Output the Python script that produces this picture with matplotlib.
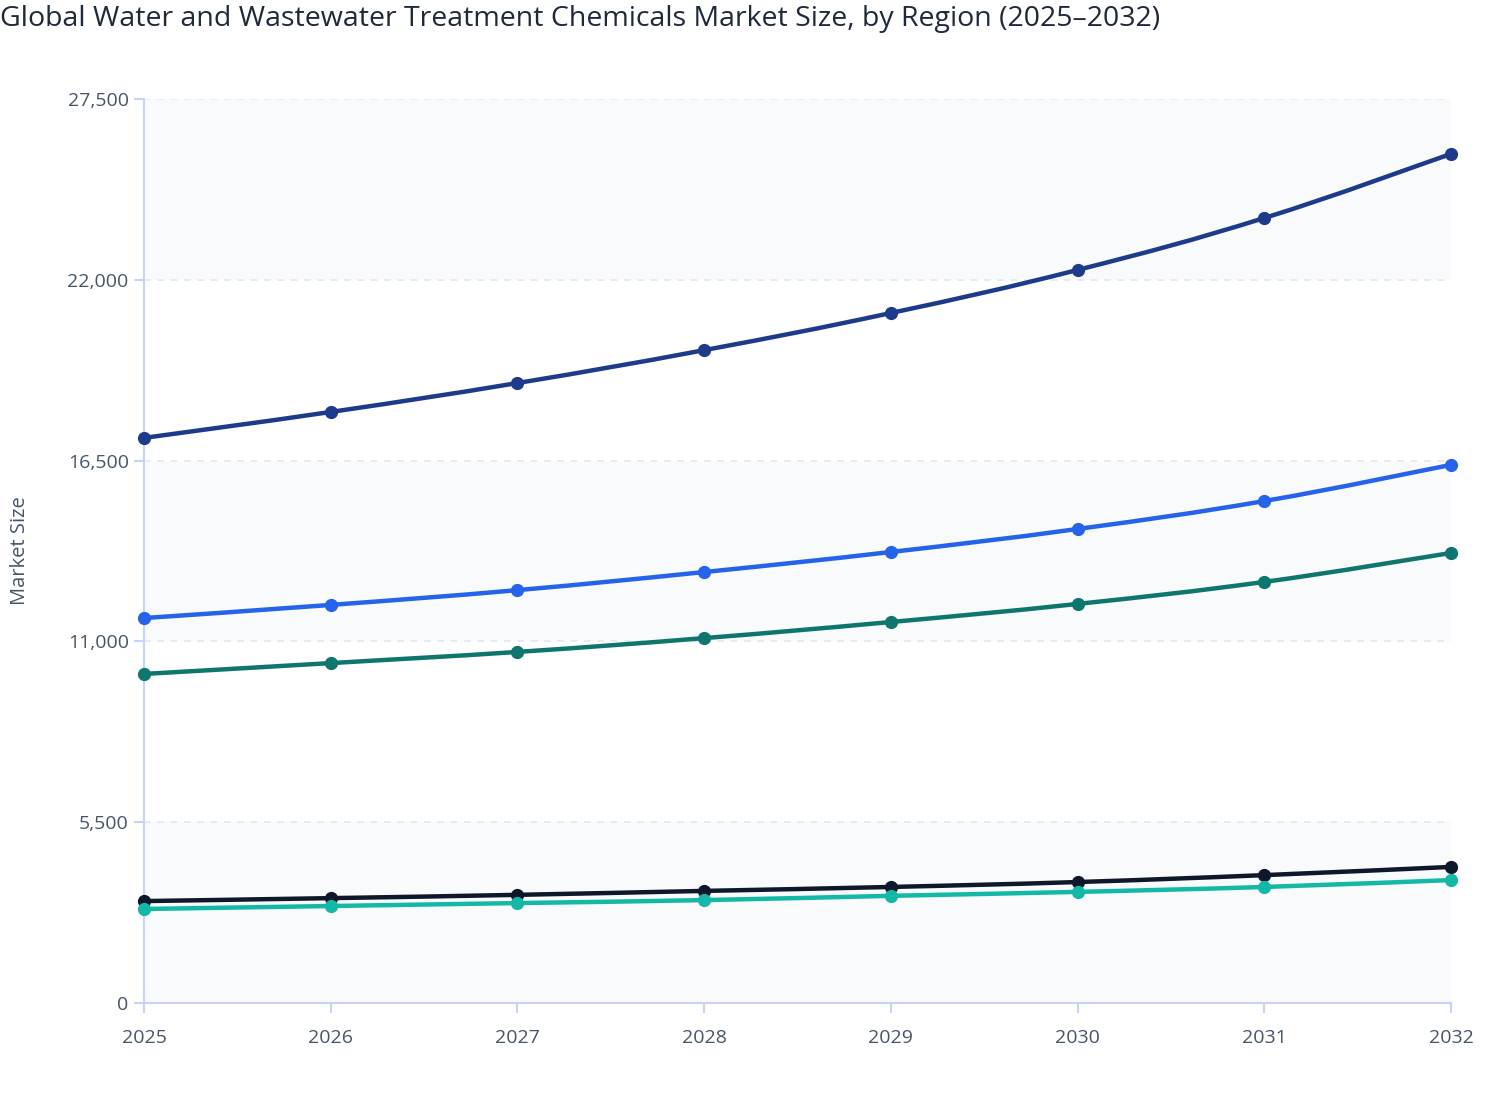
import numpy as np
import matplotlib
matplotlib.use("Agg")
import matplotlib.pyplot as plt
from matplotlib.path import Path
from matplotlib.patches import PathPatch

years = [2025, 2026, 2027, 2028, 2029, 2030, 2031, 2032]
series_names = ["Asia Pacific", "North America", "Europe", "Latin America", "Middle East & Africa"]
asia_pacific = [17190, 17980, 18860, 19860, 20990, 22300, 23880, 25830]
north_america = [11710, 12110, 12560, 13110, 13720, 14420, 15270, 16370]
europe = [10010, 10340, 10680, 11100, 11590, 12140, 12810, 13690]
latin_america = [3100, 3190, 3290, 3410, 3530, 3680, 3890, 4140]
mea = [2860, 2950, 3040, 3130, 3260, 3380, 3530, 3740]
colors = ["#1e3a8a", "#2563eb", "#0f766e", "#0f172a", "#14b8a6"]
y_ticks = [0, 5500, 11000, 16500, 22000, 27500]

plt.rcParams['font.family'] = ['Open Sans', 'Noto Sans', 'DejaVu Sans']

fig = plt.figure(figsize=(15.08, 11.2), dpi=100)
ax = fig.add_axes([144/1508, 1 - 1003/1120, (1451-144)/1508, (1003-99)/1120])

ax.set_xlim(years[0], years[-1])
ax.set_ylim(y_ticks[0], y_ticks[-1])

# alternating bands
for i in range(len(y_ticks) - 1):
    if i % 2 == 0:
        ax.axhspan(y_ticks[i], y_ticks[i+1], color="#f8fafc", zorder=0, lw=0)

for yt in y_ticks[1:]:
    ax.axhline(yt, color="#e2e8f0", lw=1.2, ls=(0, (4, 4)), zorder=1)


def smooth_path(x, y, t=0.2):
    x = np.asarray(x, float); y = np.asarray(y, float)
    verts = [(x[0], y[0])]
    codes = [Path.MOVETO]
    n = len(x)
    for i in range(n - 1):
        x0, y0 = (x[i-1], y[i-1]) if i > 0 else (x[i], y[i])
        x3, y3 = (x[i+2], y[i+2]) if i + 2 < n else (x[i+1], y[i+1])
        c1 = (x[i] + (x[i+1] - x0) * t, y[i] + (y[i+1] - y0) * t)
        c2 = (x[i+1] - (x3 - x[i]) * t, y[i+1] - (y3 - y[i]) * t)
        verts += [c1, c2, (x[i+1], y[i+1])]
        codes += [Path.CURVE4] * 3
    return Path(verts, codes)


all_series = [asia_pacific, north_america, europe, latin_america, mea]
for name, vals, c in zip(series_names, all_series, colors):
    ax.add_patch(PathPatch(smooth_path(years, vals), fill=False, edgecolor=c,
                           lw=3.2, zorder=3, capstyle='round', joinstyle='round'))
    ax.plot(years, vals, ls='none', marker='o', ms=8.5, color=c, zorder=4,
            clip_on=False, label=name)

ax.set_xticks(years)
ax.set_xticklabels([str(y) for y in years])
ax.set_yticks(y_ticks)
ax.set_yticklabels([f"{v:,}" for v in y_ticks])

for s in ["top", "right"]:
    ax.spines[s].set_visible(False)
for s in ["left", "bottom"]:
    ax.spines[s].set_color("#c7d2fe")
    ax.spines[s].set_linewidth(1.5)

ax.tick_params(axis='both', colors="#c7d2fe", labelcolor="#475569",
               labelsize=14, length=7, width=1.5)
ax.tick_params(axis='x', pad=12)
ax.tick_params(axis='y', pad=4)

ax.set_ylabel("Market Size", fontsize=14.5, color="#475569")
ax.yaxis.set_label_coords((30 - 144) / 1307, 0.5)

fig.text(0.0, 1 - 19/1120, "Global Water and Wastewater Treatment Chemicals Market Size, by Region (2025\u20132032)",
         fontsize=20.5, color="#1e293b", ha='left', va='center', fontweight='medium')

fig.savefig("out.png", dpi=100, facecolor="white")
